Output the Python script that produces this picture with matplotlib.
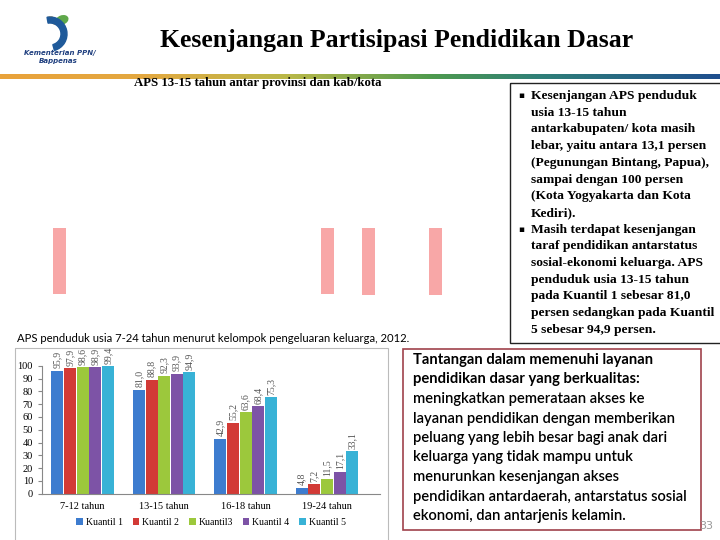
import numpy as np
import matplotlib
matplotlib.use("Agg")
import matplotlib.pyplot as plt
from matplotlib.patches import Rectangle, Wedge, Ellipse
from matplotlib.colors import LinearSegmentedColormap

# data grafik APS
kelompok_umur = ["7-12 tahun", "13-15 tahun", "16-18 tahun", "19-24 tahun"]
kuantil = ["Kuantil 1", "Kuantil 2", "Kuantil3", "Kuantil 4", "Kuantil 5"]
aps_k1 = [95.9, 81.0, 42.9, 4.8]
aps_k2 = [97.9, 88.8, 55.2, 7.2]
aps_k3 = [98.6, 92.3, 63.6, 11.5]
aps_k4 = [98.9, 93.9, 68.4, 17.1]
aps_k5 = [99.4, 94.9, 75.3, 33.1]
warna = ["#3D7CCF", "#D23A36", "#9CC83C", "#7D53A6", "#38B2D6"]

# sisa gambar peta (batang merah muda)
batang_pink_x = [53, 321, 362, 429]
batang_pink_h = [66, 66, 67, 67]

judul = "Kesenjangan Partisipasi Pendidikan Dasar"
sub_judul = "APS 13-15 tahun antar provinsi dan kab/kota"
judul_grafik = "APS penduduk usia 7-24 tahun menurut kelompok pengeluaran keluarga, 2012."

poin1 = ["Kesenjangan APS penduduk", "usia 13-15 tahun", "antarkabupaten/ kota masih",
         "lebar, yaitu antara 13,1 persen", "(Pegunungan Bintang, Papua),",
         "sampai dengan 100 persen", "(Kota Yogyakarta dan Kota", "Kediri)."]
poin2 = ["Masih terdapat kesenjangan", "taraf pendidikan antarstatus",
         "sosial-ekonomi keluarga. APS", "penduduk usia 13-15 tahun",
         "pada Kuantil 1 sebesar 81,0", "persen sedangkan pada Kuantil",
         "5 sebesar 94,9 persen."]
tantangan_bold = ["Tantangan dalam memenuhi layanan", "pendidikan dasar yang berkualitas:"]
tantangan = ["meningkatkan pemerataan akses ke", "layanan pendidikan dengan memberikan",
             "peluang yang lebih besar bagi anak dari", "keluarga yang tidak mampu untuk",
             "menurunkan kesenjangan akses", "pendidikan antardaerah, antarstatus sosial",
             "ekonomi, dan antarjenis kelamin."]

fig = plt.figure(figsize=(7.2, 5.4), dpi=100)
fig.patch.set_facecolor("white")

# axes latar dalam koordinat piksel
bg = fig.add_axes([0, 0, 1, 1])
bg.set_xlim(0, 720)
bg.set_ylim(540, 0)
bg.axis("off")

# garis gradasi di bawah judul
cmap = LinearSegmentedColormap.from_list(
    "garis", [(0, "#E9A23B"), (0.2, "#E3A840"), (0.4, "#B9B848"),
              (0.6, "#4E9A4E"), (0.75, "#2F7F78"), (1, "#1F4F8F")])
bg.imshow(np.linspace(0, 1, 256)[None, :], cmap=cmap, aspect="auto",
          extent=(0, 720, 79, 74), zorder=1)

# logo sederhana
bg.add_patch(Wedge((56, 17), 7, 20, 180, width=3, color="#E9A23B"))
bg.add_patch(Ellipse((62, 20), 12, 8, angle=-20, color="#5FA84A"))
bg.add_patch(Wedge((50, 34), 17, -100, 75, width=6, color="#1F5A9A"))
bg.text(60, 53, "Kementerian PPN/", fontsize=5, style="italic", weight="bold",
        color="#1F3F7F", ha="center", va="center")
bg.text(58, 61, "Bappenas", fontsize=5, style="italic", weight="bold",
        color="#1F3F7F", ha="center", va="center")

bg.text(397, 40, judul, fontsize=18.5, weight="bold", family="Liberation Serif",
        ha="center", va="center")
bg.text(258, 83, sub_judul, fontsize=9.2, weight="bold", family="Liberation Serif",
        ha="center", va="center")

bg.bar(batang_pink_x, batang_pink_h, width=13, bottom=228, align="edge",
       color="#F8A7A7", zorder=2)

bg.text(17, 338, judul_grafik, fontsize=8.1, family="Lato", ha="left", va="center")

# kotak teks kanan atas
bg.add_patch(Rectangle((510, 83), 215, 260, fill=False, lw=1, ec="#222222", zorder=3))
baris_box1 = poin1 + poin2
for i, s in enumerate(baris_box1):
    yy = 96 + i * 16.7
    bg.text(531, yy, s, fontsize=9.7, weight="bold", family="Liberation Serif",
            ha="left", va="center")
bg.text(521, 96, "\u25aa", fontsize=6.5, ha="center", va="center")
bg.text(521, 96 + len(poin1) * 16.7, "\u25aa", fontsize=6.5, ha="center", va="center")

# kotak tantangan
bg.add_patch(Rectangle((403, 349), 298, 181, fill=False, lw=1.2, ec="#A0424C", zorder=3))
for i, s in enumerate(tantangan_bold + tantangan):
    berat = "bold" if i < len(tantangan_bold) else "semibold"
    bg.text(413, 360 + i * 19.5, s, fontsize=10.6, weight=berat, family="Lato",
            ha="left", va="center")
bg.text(706, 526, "33", fontsize=8, color="#999999", ha="center", va="center")

# kotak grafik
bg.add_patch(Rectangle((15, 348), 373, 200, fill=False, lw=0.8, ec="#BBBBBB"))

# grafik batang
ax = fig.add_axes([42 / 720, 46.3 / 540, 338 / 720, 128 / 540])
x = np.arange(len(kelompok_umur))
lebar = 0.155
semua = [aps_k1, aps_k2, aps_k3, aps_k4, aps_k5]
for i, (nilai, nama, c) in enumerate(zip(semua, kuantil, warna)):
    pos = x + (i - 2) * lebar
    ax.bar(pos, nilai, width=lebar * 0.95, color=c, label=nama, zorder=2)
    for px, v in zip(pos, nilai):
        ax.text(px, v + 2, f"{v:.1f}".replace(".", ","), rotation=90,
                fontsize=7, family="Liberation Serif", color="#555555",
                ha="center", va="bottom", clip_on=False)

ax.set_xlim(-0.5, 3.65)
ax.set_ylim(0, 100)
ax.set_yticks(range(0, 101, 10))
ax.set_xticks(x)
ax.set_xticklabels(kelompok_umur, family="Liberation Serif", fontsize=7.5)
ax.tick_params(axis="y", labelsize=7.5, length=3, color="#888888")
ax.tick_params(axis="x", length=0, pad=6)
for t in ax.get_yticklabels():
    t.set_family("Liberation Serif")
for s in ["top", "right"]:
    ax.spines[s].set_visible(False)
ax.spines["left"].set_color("#888888")
ax.spines["bottom"].set_color("#888888")

ax.legend(loc="center", bbox_to_anchor=(0.5, -0.225), ncol=5, frameon=False,
          handlelength=0.7, handleheight=0.7, handletextpad=0.3,
          columnspacing=1.0, prop={"family": "Liberation Serif", "size": 7})

fig.savefig("out.png", dpi=100)
